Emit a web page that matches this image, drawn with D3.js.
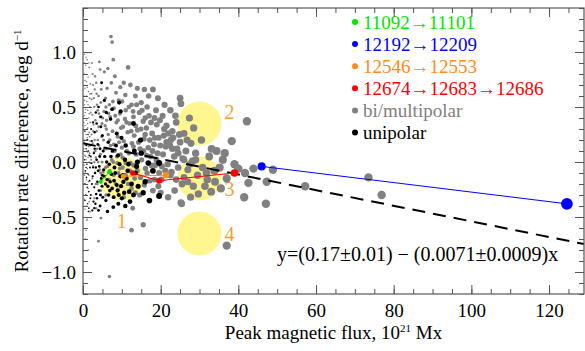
<!DOCTYPE html>
<html>
<head>
<meta charset="utf-8">
<script src="https://cdn.jsdelivr.net/npm/d3@7"></script>
<style>
  body { margin: 0; background: #fff; }
  svg { display: block; font-family: "Liberation Serif", "Times New Roman", serif; }
</style>
</head>
<body>
<svg id="chart" width="585" height="351"></svg>
<script>
// bi/multipolar regions: [peak flux (1e21 Mx), rotation rate difference (deg/day)]
const biPoints = [
  [0.4,0.98],[1.1,0.93],[0.7,0.88],[1.6,0.86],[0.3,0.8],[1.3,0.77],[0.9,0.73],[1.9,0.71],[0.5,0.67],[1.4,0.64],
  [0.2,0.6],[1.7,0.58],[1.0,0.55],[0.4,0.52],[1.8,0.5],[1.2,0.47],[0.6,0.45],[0.3,0.42],[1.5,0.4],[0.9,0.38],
  [1.9,0.36],[0.5,0.33],[1.2,0.31],[0.3,0.29],[1.6,0.27],[0.8,0.25],[1.1,0.22],[0.4,0.2],[1.8,0.19],[0.6,0.16],
  [1.4,0.14],[0.2,0.12],[1.0,0.1],[1.7,0.08],[0.5,0.06],[1.3,0.04],[0.8,0.02],[1.9,-0.01],[0.3,-0.03],[1.1,-0.06],
  [0.6,-0.09],[1.5,-0.12],[0.9,-0.16],[0.4,-0.2],[1.3,-0.24],[0.7,-0.3],[1.6,-0.36],[0.5,-0.43],[1.1,-0.52],[0.8,-0.62],
  [1.4,-0.8],[0.6,0.15],[1.2,0.35],[0.9,0.6],[1.0,-0.53],
  [0.3,0.9],[0.8,0.95],[1.5,0.9],[0.5,0.74],[1.1,0.68],[1.8,0.62],[0.4,0.56],[1.3,0.52],[0.7,0.48],[1.6,0.44],
  [0.2,0.36],[1.0,0.3],[1.7,0.23],[0.3,0.18],[1.2,0.09],[0.7,0.05],[1.6,0.0],[0.4,-0.12],[1.4,-0.18],[0.8,-0.4],
  [0.6,-0.7],[1.8,-0.45],[0.4,-0.34],
  [2.3,0.9],[3.1,0.78],[2.6,0.7],[4.2,0.91],[4.4,0.84],[3.5,0.62],[2.2,0.57],[4.6,0.54],[2.9,0.5],[3.8,0.47],
  [2.4,0.43],[4.4,0.41],[3.2,0.38],[2.7,0.34],[4.0,0.32],[3.5,0.28],[2.2,0.25],[4.8,0.23],[3.0,0.2],[2.5,0.17],
  [4.1,0.15],[3.6,0.12],[2.8,0.09],[4.5,0.07],[3.3,0.04],[2.1,0.02],[3.9,0.0],[2.6,-0.04],[4.3,-0.07],[3.1,-0.1],
  [2.4,-0.15],[3.7,-0.2],[4.6,-0.26],[2.9,-0.33],[3.4,-0.42],[2.2,0.62],[4.9,0.35],[4.7,0.66],
  [2.5,0.8],[3.4,0.72],[3.0,0.66],[4.0,0.6],[3.8,0.2],[2.9,0.0],[3.3,-0.2],[4.5,-0.1],[2.0,0.45],[2.6,0.28],
  [3.2,0.1],[2.8,0.58],[3.6,0.52],[4.1,0.44],
  [7.2,1.14],[7.5,1.09],[7.8,0.93],[5.5,0.82],[7.3,0.72],[6.2,0.67],[8.5,0.63],[5.8,0.58],[9.2,0.56],[6.8,0.52],
  [8.0,0.49],[5.4,0.46],[9.5,0.44],[7.0,0.41],[6.1,0.38],[8.6,0.36],[5.7,0.33],[9.8,0.31],[7.6,0.28],[6.5,0.25],
  [8.9,0.23],[5.3,0.2],[9.3,0.18],[7.1,0.15],[6.0,0.12],[8.2,0.1],[9.7,0.07],[5.6,0.05],[7.4,0.02],[8.8,-0.01],
  [6.3,-0.04],[9.5,-0.06],[5.2,-0.09],[7.9,-0.12],[6.7,-0.16],[8.4,-0.2],[9.0,-0.25],[5.9,-0.3],[6.8,-1.04],[4.6,-0.51],
  [4.0,-0.72],
  [5.1,0.4],[5.9,0.5],[6.6,0.44],[7.7,0.55],[8.3,0.42],[9.0,0.38],[9.6,0.68],[8.2,0.78],[6.4,0.85],[6.0,0.3],
  [6.9,0.2],[7.9,0.16],[8.7,0.05],[5.5,0.12],[4.9,0.0],[5.8,-0.05],[6.9,-0.08],[7.8,0.0],[9.1,-0.1],
  [11.6,0.86],[10.5,0.72],[14.0,0.67],[13.5,0.6],[18.0,0.66],[15.0,0.54],[12.5,0.52],[16.5,0.5],[11.0,0.47],[14.5,0.45],
  [18.8,0.47],[17.0,0.42],[13.0,0.41],[10.8,0.39],[15.5,0.37],[12.0,0.35],[19.0,0.34],[16.3,0.31],[14.0,0.29],[11.5,0.27],
  [17.8,0.26],[13.2,0.24],[19.5,0.22],[15.7,0.21],[10.5,0.19],[12.6,0.17],[18.3,0.16],[16.8,0.13],[14.7,0.12],[11.3,0.1],
  [13.7,0.07],[19.2,0.08],[17.4,0.05],[10.2,0.04],[15.1,0.02],[12.2,-0.01],[18.6,-0.03],[16.1,-0.06],[14.0,-0.08],[19.6,-0.1],
  [11.0,-0.12],[13.3,-0.15],[17.2,-0.17],[15.8,-0.21],[12.5,-0.24],[18.0,-0.26],[14.6,-0.3],[12.8,-0.42],[12.5,-0.62],[15.5,-0.57],
  [10.1,0.55],[10.9,0.61],[11.8,0.5],[12.9,0.46],[13.8,0.52],[15.2,0.47],[16.0,0.4],[17.5,0.36],[18.4,0.4],[19.8,0.38],
  [19.3,0.58],[16.9,0.6],[15.8,0.66],[12.2,0.7],[10.3,0.32],[11.2,0.36],[12.4,0.28],[13.6,0.33],[14.9,0.3],[16.0,0.25],
  [17.2,0.2],[18.5,0.22],[19.9,0.15],[10.0,0.13],[11.8,0.08],[13.0,0.14],[14.3,0.18],[15.6,0.1],[16.4,0.06],[17.9,0.1],
  [18.9,0.02],[10.2,-0.05],[11.0,-0.01],[12.0,-0.08],[13.0,-0.03],[14.8,-0.14],[16.5,-0.1],[17.6,-0.03],[18.4,-0.16],[19.4,-0.22],
  [11.6,-0.2],[13.5,-0.28],[10.5,-0.32],
  [25.0,0.58],[25.2,0.53],[27.4,0.40],[22.5,0.47],[20.5,0.42],[24.0,0.36],[21.5,0.33],[28.5,0.31],[23.0,0.28],[26.0,0.26],
  [20.8,0.24],[22.6,0.2],[25.0,0.18],[27.8,0.17],[21.3,0.14],[24.2,0.12],[22.4,0.15],[26.5,0.1],[29.0,0.08],[20.6,0.07],
  [23.5,0.05],[25.7,0.03],[28.2,0.01],[21.8,-0.02],[24.5,-0.05],[27.0,-0.07],[22.8,-0.09],[29.5,-0.12],[26.0,-0.14],[20.2,-0.16],
  [28.4,-0.22],[29.7,-0.29],[27.7,-0.32],[25.4,-0.38],[21.9,-0.32],[25.2,-0.37],[23.6,-0.26],
  [20.9,0.3],[22.0,0.26],[23.2,0.22],[24.8,0.25],[26.8,0.2],[21.0,0.52],[23.8,0.42],[21.5,0.18],[23.0,0.12],[24.5,0.08],
  [26.0,0.02],[27.5,-0.02],[29.0,0.02],[20.3,-0.04],[21.2,-0.08],[22.5,-0.12],[24.0,-0.16],[25.5,-0.2],[27.0,-0.18],[20.0,-0.28],
  [33.1,0.12],[34.4,0.10],[36.0,0.02],[38.3,0.19],[31.4,-0.22],[37.0,-0.15],[32.5,0.05],[35.2,-0.05],[30.5,0.2],[31.8,-0.1],
  [34.0,-0.18],[33.0,-0.27],[37.0,-0.76],[39.0,-0.02],[30.8,-0.05],[32.0,-0.16],[33.8,-0.08],[35.5,-0.24],[36.5,0.08],
  [42.2,0.37],[40.0,-0.06],[41.7,-0.1],[43.9,-0.06],[42.6,-0.19],[41.5,-0.32],[47.3,-0.18],[47.1,-0.38],[48.9,-0.07],[57.2,-0.22],
  [73.5,-0.14],[76.9,-0.30]
];

// unipolar regions
const uniPoints = [
  [0.5,0.28],[1.2,0.2],[0.8,0.12],[1.6,0.06],[0.4,0.02],[1.0,-0.02],[1.8,-0.05],[0.6,-0.08],[1.3,-0.11],[0.9,-0.14],
  [1.7,-0.17],[0.5,-0.2],[1.1,-0.23],[1.5,-0.27],[0.7,-0.3],[1.9,-0.33],[1.2,-0.38],[2.4,-0.44],[0.8,-0.05],[1.4,0.1],
  [1.5,-0.42],[1.0,0.2],[1.8,0.15],[0.5,-0.35],[1.4,-0.45],[0.9,0.15],[1.3,0.25],
  [4.8,0.72],[5.5,0.56],[4.6,0.41],[4.0,0.5],[3.3,0.45],[2.6,0.36],[4.6,0.32],[3.0,0.27],[5.0,0.24],[2.3,0.19],
  [3.8,0.16],[4.4,0.12],[2.8,0.08],[5.6,0.05],[3.5,0.02],[2.2,-0.01],[4.2,-0.04],[5.3,-0.07],[3.1,-0.1],[2.5,-0.13],
  [4.7,-0.15],[3.7,-0.18],[5.8,-0.2],[2.9,-0.23],[4.1,-0.26],[3.4,-0.29],[5.1,-0.32],[2.7,-0.36],[4.4,-0.4],
  [2.0,-0.3],[2.3,-0.2],[2.6,-0.05],[3.0,0.12],[3.2,-0.38],[3.6,-0.33],[3.9,-0.08],[4.3,0.05],[4.5,-0.3],[4.9,-0.22],
  [5.2,0.1],[5.5,-0.13],[5.9,-0.35],[2.1,0.3],[3.5,0.35],[2.9,-0.42],[4.0,-0.44],[5.0,-0.12],[3.3,-0.05],[2.0,0.05],
  [9.3,0.54],[9.7,0.46],[7.1,0.39],[8.7,0.26],[9.9,0.22],[6.5,0.18],[11.0,0.15],[7.6,0.1],[9.0,0.06],[10.8,0.02],
  [6.8,-0.02],[8.1,-0.05],[11.5,-0.08],[7.3,-0.11],[9.6,-0.13],[6.2,-0.16],[10.4,-0.18],[8.7,-0.21],[7.8,-0.41],[11.9,-0.27],
  [12.1,-0.36],[9.2,-0.3],[6.9,-0.26],[10.0,-0.33],[8.0,-0.17],
  [6.1,0.0],[6.4,-0.22],[6.6,-0.3],[7.0,-0.18],[7.2,0.05],[7.5,-0.24],[7.9,-0.32],[8.3,-0.1],[8.5,0.15],[8.9,-0.26],
  [9.4,-0.02],[9.8,-0.22],[10.3,-0.12],[10.6,-0.28],[11.2,-0.15],[11.7,-0.02],[6.0,0.45],[7.5,0.48],[6.3,-0.45],[9.1,-0.38],
  [10.9,-0.4],
  [13.2,0.10],[13.0,0.35],[15.0,0.08],[16.8,-0.01],[19.6,-0.01],[17.1,-0.35],[19.6,-0.31],[14.2,-0.22],[13.5,-0.1],[16.0,-0.18],
  [18.0,-0.08],[14.8,0.2],[15.5,-0.28],[13.8,-0.04],[12.5,-0.2],[13.0,-0.3],[14.0,0.0]
];

// tracked regions (NOAA numbers) shown as connected points
const greenTrack = [[4.6,-0.18],[6.8,-0.09]];
const blueTrack = [[46.0,-0.04],[124.6,-0.38]];
const orangeTrack = [[10.4,-0.13],[21.4,-0.12]];
const redTrack = [[12.8,-0.10],[19.6,-0.17],[39.0,-0.10]];

const legendLabels = ['11092\u219211101', '12192\u219212209', '12546\u219212553',
  '12674\u219212683\u219212686', 'bi/multipolar', 'unipolar'];

// highlighted zones, numbered
const zoneX = [10, 30, 30, 30];
const zoneY = [-0.15, 0.35, -0.15, -0.65];
const zoneLabels = ['1', '2', '3', '4'];

// linear fit y = a + b x
const fitA = 0.17;
const fitB = -0.0071;
const fitText = 'y=(0.17\u00b10.01) \u2212 (0.0071\u00b10.0009)x';

const xTicks = [0, 20, 40, 60, 80, 100, 120];
const yTicks = [-1.0, -0.5, 0.0, 0.5, 1.0];

const svg = d3.select('#chart');
const mLeft = 83, mRight = 584, mTop = 8, mBottom = 294;
const serif = '"Liberation Serif", "Times New Roman", serif';

const x = d3.scaleLinear().domain([0, 129]).range([mLeft, mRight]);
const y = d3.scaleLinear().domain([-1.2, 1.4]).range([mBottom, mTop]);
const r = v => Math.max(0.8, Math.min(4.2, 0.68 * Math.sqrt(v)));
const rTrack = v => 1.2 + 0.42 * Math.sqrt(v);

const colors = { green: '#00e600', blue: '#0000ff', orange: '#ff8c1a', red: '#ff0000', gray: '#808080', black: '#000000' };

// zones
const zoneR = 22;
svg.append('g').selectAll('circle')
  .data(zoneX)
  .enter().append('circle')
  .attr('cx', d => x(d))
  .attr('cy', (d, i) => y(zoneY[i]))
  .attr('r', zoneR)
  .attr('fill', '#fff68f');

const zoneOff = [[0, 42], [30, -12], [30, 10], [30, 0]];
svg.append('g').selectAll('text')
  .data(zoneLabels)
  .enter().append('text')
  .attr('x', (d, i) => x(zoneX[i]) + zoneOff[i][0])
  .attr('y', (d, i) => y(zoneY[i]) + zoneOff[i][1])
  .attr('text-anchor', 'middle')
  .attr('dominant-baseline', 'central')
  .style('font-size', '20px')
  .style('fill', '#ffa028')
  .text(d => d);

// scatter
svg.append('g').selectAll('circle')
  .data(biPoints)
  .enter().append('circle')
  .attr('cx', d => x(d[0]))
  .attr('cy', d => y(d[1]))
  .attr('r', d => r(d[0]))
  .attr('fill', colors.gray);

svg.append('g').selectAll('circle')
  .data(uniPoints)
  .enter().append('circle')
  .attr('cx', d => x(d[0]))
  .attr('cy', d => y(d[1]))
  .attr('r', d => r(d[0]))
  .attr('fill', colors.black);

// fit line
svg.append('line')
  .attr('x1', x(0)).attr('y1', y(fitA))
  .attr('x2', x(129)).attr('y2', y(fitA + fitB * 129))
  .attr('stroke', '#000')
  .attr('stroke-width', 2)
  .attr('stroke-dasharray', '13,8');

// tracks
const line = d3.line().x(d => x(d[0])).y(d => y(d[1]));
[[greenTrack, colors.green], [orangeTrack, colors.orange], [redTrack, colors.red], [blueTrack, colors.blue]]
  .forEach(([pts, c]) => {
    svg.append('path')
      .datum(pts)
      .attr('d', line)
      .attr('fill', 'none')
      .attr('stroke', c)
      .attr('stroke-width', 1);
    svg.append('g').selectAll('circle')
      .data(pts)
      .enter().append('circle')
      .attr('cx', d => x(d[0]))
      .attr('cy', d => y(d[1]))
      .attr('r', d => rTrack(d[0]))
      .attr('fill', c);
  });

// legend
const legendColors = [colors.green, colors.blue, colors.orange, colors.red, colors.gray, colors.black];
const legend = svg.append('g').attr('transform', 'translate(355,22)');
legendLabels.forEach((lab, i) => {
  const g = legend.append('g').attr('transform', `translate(0,${i * 22.1})`);
  g.append('circle').attr('r', 3).attr('fill', legendColors[i]);
  g.append('text')
    .attr('x', 8)
    .attr('dominant-baseline', 'central')
    .style('font-size', '19px')
    .style('fill', legendColors[i])
    .text(lab);
});

// equation
svg.append('text')
  .attr('x', 277)
  .attr('y', 261)
  .style('font-size', '20px')
  .style('fill', '#000')
  .text(fitText);

// axes
const axisColor = '#555';
function styleAxis(g) {
  g.attr('font-family', null).attr('font-size', null);
  g.select('.domain').remove();
  g.selectAll('.tick line').attr('stroke', axisColor);
  g.selectAll('text')
    .style('font-family', serif)
    .style('font-size', '19px')
    .style('fill', '#000');
}

svg.append('g').attr('transform', `translate(0,${mBottom})`)
  .call(d3.axisBottom(x).tickValues(d3.range(0, 130, 5)).tickSize(-5).tickFormat(''))
  .call(styleAxis);
svg.append('g').attr('transform', `translate(0,${mBottom})`)
  .call(d3.axisBottom(x).tickValues(xTicks).tickSize(-9).tickPadding(10).tickFormat(d3.format('d')))
  .call(styleAxis);
svg.append('g').attr('transform', `translate(0,${mTop})`)
  .call(d3.axisTop(x).tickValues(d3.range(0, 130, 5)).tickSize(-5).tickFormat(''))
  .call(styleAxis);
svg.append('g').attr('transform', `translate(0,${mTop})`)
  .call(d3.axisTop(x).tickValues(xTicks).tickSize(-9).tickFormat(''))
  .call(styleAxis);

svg.append('g').attr('transform', `translate(${mLeft},0)`)
  .call(d3.axisLeft(y).tickValues(d3.range(-12, 15).map(v => v / 10)).tickSize(-5).tickFormat(''))
  .call(styleAxis);
svg.append('g').attr('transform', `translate(${mLeft},0)`)
  .call(d3.axisLeft(y).tickValues(yTicks).tickSize(-9).tickPadding(7).tickFormat(d3.format('.1f')))
  .call(styleAxis);
svg.append('g').attr('transform', `translate(${mRight},0)`)
  .call(d3.axisRight(y).tickValues(d3.range(-12, 15).map(v => v / 10)).tickSize(-5).tickFormat(''))
  .call(styleAxis);
svg.append('g').attr('transform', `translate(${mRight},0)`)
  .call(d3.axisRight(y).tickValues(yTicks).tickSize(-9).tickFormat(''))
  .call(styleAxis);

svg.append('rect')
  .attr('x', mLeft).attr('y', mTop)
  .attr('width', mRight - mLeft).attr('height', mBottom - mTop)
  .attr('fill', 'none')
  .attr('stroke', axisColor)
  .attr('stroke-width', 1.2);

// axis titles
const xt = svg.append('text')
  .attr('x', (mLeft + mRight) / 2)
  .attr('y', 339)
  .attr('text-anchor', 'middle')
  .style('font-size', '19px')
  .text('Peak magnetic flux, 10');
xt.append('tspan').attr('dy', -7).style('font-size', '11px').text('21');
xt.append('tspan').attr('dy', 7).text(' Mx');

const yt = svg.append('text')
  .attr('transform', `translate(28,${(mTop + mBottom) / 2}) rotate(-90)`)
  .attr('text-anchor', 'middle')
  .style('font-size', '19px')
  .text('Rotation rate difference, deg d');
yt.append('tspan').attr('dy', -7).style('font-size', '11px').text('\u22121');
</script>
</body>
</html>
